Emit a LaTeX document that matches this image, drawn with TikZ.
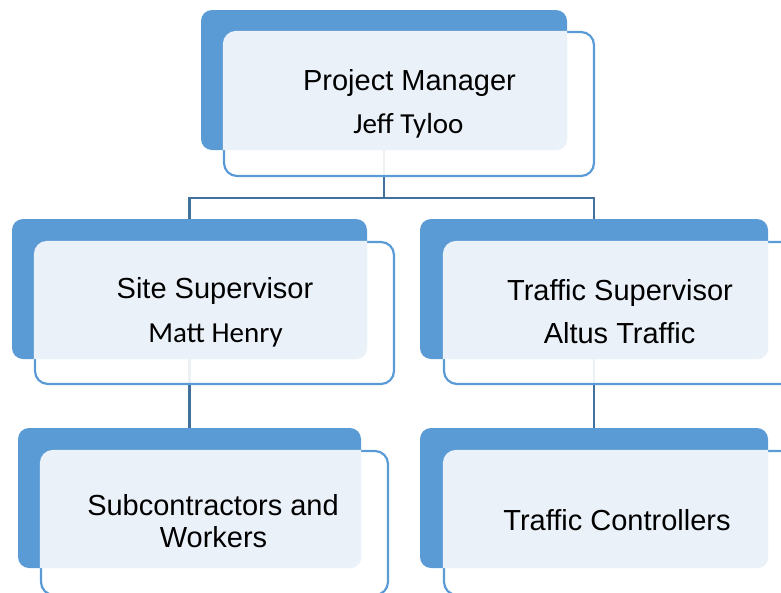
\documentclass[tikz,border=0pt]{standalone}
\usepackage{fontspec}
\setmainfont{Liberation Sans}
\newfontfamily\calfont{Carlito}
\definecolor{boxblue}{HTML}{5B9BD5}
\definecolor{linkblue}{HTML}{41719C}
\definecolor{paleblue}{HTML}{EAF1F9}
\pgfdeclarelayer{background}
\pgfsetlayers{background,main}
\begin{document}
\begin{tikzpicture}[x=1pt,y=-1pt,
  backbox/.style={fill=boxblue, draw=none, rounded corners=11pt, inner sep=0pt},
  frontbox/.style={draw=boxblue, line width=2.2pt, fill=white, fill opacity=0.9,
    rounded corners=13pt, inner sep=0pt},
  link/.style={draw=linkblue, line width=2.3pt},
  txt/.style={anchor=base, inner sep=0pt, font=\fontsize{29}{32}\selectfont},
  ctxt/.style={txt, font=\calfont\fontsize{29}{32}\selectfont},
]
\useasboundingbox (0,0) rectangle (781,592);

% back (solid) boxes
\node[backbox, minimum width=366pt, minimum height=140pt] (pmB)  at (384,80)    {};
\node[backbox, minimum width=355pt, minimum height=140pt] (ssB)  at (189.5,289) {};
\node[backbox, minimum width=348pt, minimum height=140pt] (tsB)  at (594,289)   {};
\node[backbox, minimum width=343pt, minimum height=140pt] (subB) at (189.5,498) {};
\node[backbox, minimum width=348pt, minimum height=140pt] (tcB)  at (594,498)   {};

% outlined front boxes
\node[frontbox, minimum width=370pt, minimum height=144pt] (pmF)  at (409,104)   {};
\node[frontbox, minimum width=359pt, minimum height=142pt] (ssF)  at (214.5,313) {};
\node[frontbox, minimum width=352pt, minimum height=142pt] (tsF)  at (620,313)   {};
\node[frontbox, minimum width=347pt, minimum height=144pt] (subF) at (214.5,523) {};
\node[frontbox, minimum width=350pt, minimum height=144pt] (tcF)  at (619,523)   {};

% pale overlap of each front box with its back box
\foreach \b/\f in {pmB/pmF, ssB/ssF, tsB/tsF, subB/subF, tcB/tcF}{
  \begin{scope}
    \clip[rounded corners=13pt] (\f.south west) rectangle (\f.north east);
    \fill[paleblue, rounded corners=11pt] (\b.south west) rectangle (\b.north east);
  \end{scope}
}

% connectors behind the boxes
\coordinate (bus) at (384,198);
\begin{pgfonlayer}{background}
  \draw[link] (pmB.south) -- (bus);
  \draw[link] (bus) -| (ssB.north);
  \draw[link] (bus) -| (tsB.north);
  \draw[link] (ssB.south) -- (subB.north);
  \draw[link] (tsB.south) -- (tcB.north);
\end{pgfonlayer}

% labels
\node[txt]  (pm1)  at (409.5,90)  {Project Manager};
\node[ctxt] (pm2)  at (408.5,133) {Jeff Tyloo};
\node[txt]  (ss1)  at (215,298)   {Site Supervisor};
\node[ctxt] (ss2)  at (215.5,342) {Matt Henry};
\node[txt]  (ts1)  at (620,300)   {Traffic Supervisor};
\node[txt]  (ts2)  at (619.5,343) {Altus Traffic};
\node[txt]  (sub1) at (213,515)   {Subcontractors and};
\node[txt]  (sub2) at (213.5,547) {Workers};
\node[txt]  (tc1)  at (617,530)   {Traffic Controllers};
\end{tikzpicture}
\end{document}
